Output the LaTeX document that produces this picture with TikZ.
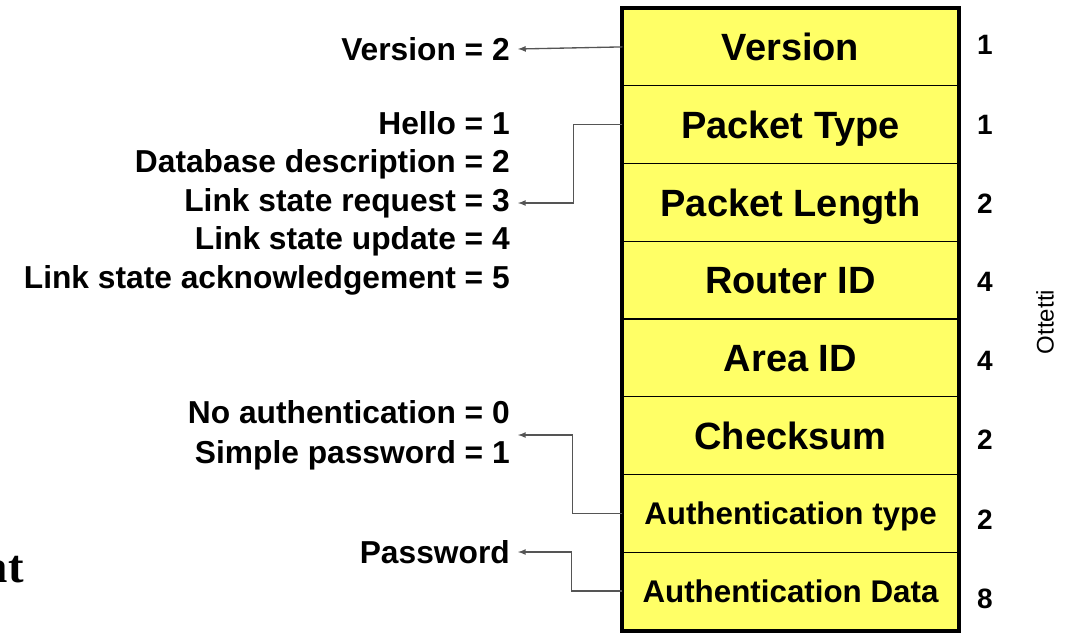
\documentclass[tikz,border=0pt]{standalone}
\usepackage{fontspec}
\setmainfont{Liberation Sans}
\newfontfamily\titlefont{Liberation Serif}
\usetikzlibrary{arrows}
\definecolor{fieldyellow}{HTML}{FFFF66}
\definecolor{linkgray}{HTML}{555555}
\newcommand{\fieldfont}{\fontsize{28.5}{30}\selectfont\bfseries}
\newcommand{\smallfield}{\fontsize{23.5}{26}\selectfont\bfseries}

\begin{document}
\begin{tikzpicture}[x=0.75pt,y=-0.75pt,>=latex,
  field/.style={draw=black,line width=0.8pt,fill=fieldyellow,minimum width=251.25pt,minimum height=58.3pt,inner sep=0pt,font=\fieldfont,text height=20.4pt,text depth=0pt},
  authfield/.style={field,font=\smallfield,text height=16.8pt},
  vals/.style={anchor=east,align=right,inner xsep=6pt,inner ysep=0pt,font=\fontsize{23.8}{28.9}\selectfont\bfseries},
  octets/.style={font=\fontsize{21}{23}\selectfont\bfseries},
  link/.style={->,draw=linkgray,line width=1pt}]
\useasboundingbox (0,0) rectangle (1066,633);
% packet fields
\node[field](ver) at (790.5,46.9) {Version};
\node[field](ptype) at (790.5,124.6) {Packet Type};
\node[field](plen) at (790.5,202.4) {Packet Length};
\node[field](rid) at (790.5,280.1) {Router ID};
\node[field](aid) at (790.5,357.9) {Area ID};
\node[field](csum) at (790.5,435.6) {Checksum};
\node[authfield](atype) at (790.5,513.4) {Authentication type};
\node[authfield](adata) at (790.5,591.1) {Authentication Data};
\draw[line width=3pt](ver.north west) rectangle (adata.south east);
%
% sizes in octets
\node[octets](nver) at (985,45) {1};
\node[octets](nptype) at (985,125) {1};
\node[octets](nplen) at (985,204) {2};
\node[octets](nrid) at (985,282) {4};
\node[octets](naid) at (985,361) {4};
\node[octets](ncsum) at (985,440) {2};
\node[octets](natype) at (985,520) {2};
\node[octets](nadata) at (985,599) {8};
\node[rotate=90](ottetti) at (1045,322) {\fontsize{18}{20}\selectfont Ottetti};
%
% values
\node[vals](verval) at (518,49) {Version = 2};
\node[vals](typeval) at (518,203) {Hello = 1\\Database description = 2\\Link state request = 3\\Link state update = 4\\Link state acknowledgement = 5};
\node[vals,font=\fontsize{23.8}{30}\selectfont\bfseries](authval) at (518,435) {No authentication = 0\\Simple password = 1};
\node[vals](pwval) at (518,552) {Password};
\node[anchor=base east,inner sep=0pt](fmt) at (24,582) {\titlefont\bfseries\fontsize{35}{38}\selectfont at};
%
\draw[link](ver.west) -- (verval.east);
\draw[link](ptype.west) -- ++(-49,0) |- (typeval.east);
\draw[link](atype.west) -- ++(-50,0) |- (authval.east);
\draw[link](adata.west) -- ++(-51,0) |- (pwval.east);
\end{tikzpicture}
\end{document}
